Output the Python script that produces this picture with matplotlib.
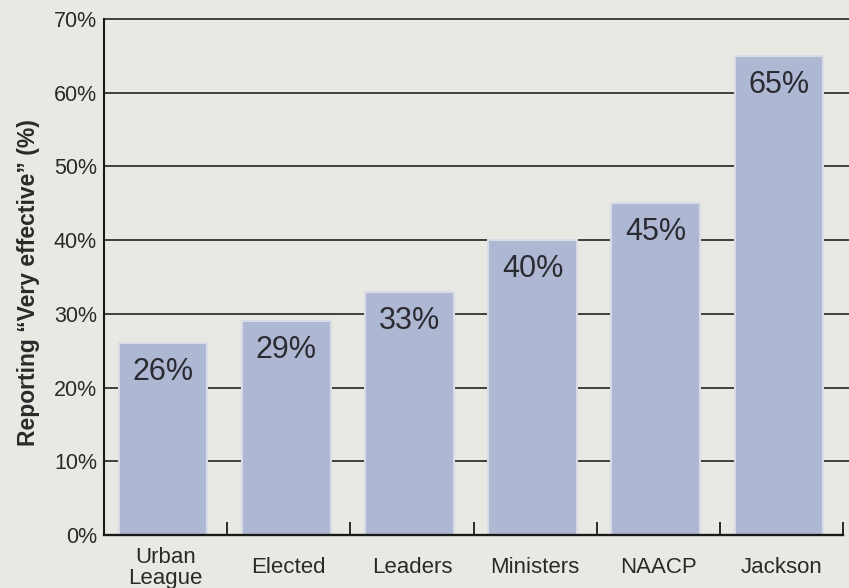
import numpy as np
import matplotlib.pyplot as plt

# survey data
groups = ["Urban\nLeague", "Elected", "Leaders", "Ministers", "NAACP", "Jackson"]
very_effective = [26, 29, 33, 40, 45, 65]
yticks = [0, 10, 20, 30, 40, 50, 60, 70]

plt.rcParams['font.family'] = ['Liberation Sans', 'DejaVu Sans']

fig = plt.figure(figsize=(8.49, 5.88), dpi=100, facecolor='#e9e9e3')
ax = fig.add_axes([104 / 849, 1 - 535 / 588, 1 - 104 / 849, (535 - 19) / 588])
ax.set_facecolor('#e9e9e3')

x = np.arange(len(groups)) - 0.02
bars = ax.bar(x, very_effective, width=0.72, color='#afb8d3',
              edgecolor='#d9dce6', linewidth=1.5, zorder=3)

# value labels inside the top of each bar
for xi, v in zip(x, very_effective):
    ax.annotate(f"{v}%", (xi, v), xytext=(0, -10), textcoords='offset points',
                ha='center', va='top', fontsize=22, color='#2b2b33', zorder=4)

# horizontal rules behind the bars
for t in yticks[1:]:
    ax.axhline(t, color='#1a1a1a', linewidth=1.15, zorder=1, clip_on=False)

ax.set_xlim(-0.5, 5.5 + 6 / 123.17)
ax.set_ylim(0, 70)
ax.set_yticks(yticks)
ax.set_yticklabels([f"{t}%" for t in yticks])
ax.tick_params(axis='y', length=0, pad=5, labelsize=15.5, labelcolor='#2a2a2a')

ax.set_xticks(np.arange(len(groups)))
ax.set_xticklabels(groups, fontsize=16, color='#2a2a2a', linespacing=1.0)
for lab in ax.get_xticklabels():
    lab.set_va('center')
ax.tick_params(axis='x', which='major', length=0, pad=23.5)
ax.set_xticks(np.arange(len(groups)) + 0.5, minor=True)
ax.tick_params(axis='x', which='minor', direction='in', length=9.5, width=1.3,
               color='#1a1a1a')

for s in ['top', 'right']:
    ax.spines[s].set_visible(False)
ax.spines['left'].set_linewidth(1.5)
ax.spines['left'].set_color('#1a1a1a')
ax.spines['bottom'].set_linewidth(1.7)
ax.spines['bottom'].set_color('#1a1a1a')
ax.spines['bottom'].set_bounds(-0.5, 5.5)
ax.spines['left'].set_zorder(5)
ax.spines['bottom'].set_zorder(5)

ax.set_ylabel("Reporting \u201cVery effective\u201d (%)", fontsize=16.5,
              fontweight='bold', color='#2a2a2a')
ax.yaxis.set_label_coords(-64 / 745, 0.49)

fig.savefig('out.png', dpi=100, facecolor=fig.get_facecolor())
